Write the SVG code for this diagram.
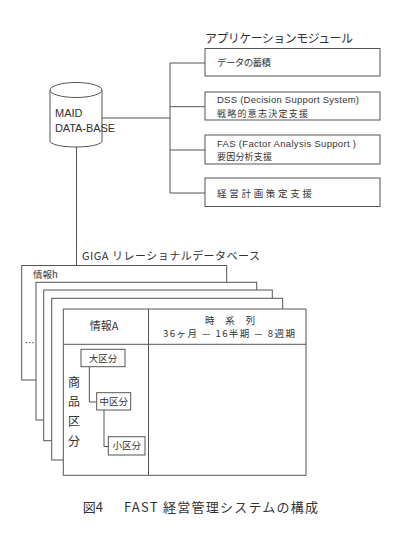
<svg xmlns="http://www.w3.org/2000/svg" width="400" height="537" viewBox="0 0 400 537">
<style>
.ln{fill:none;stroke:#555;stroke-width:1}
.bx{fill:#fff;stroke:#555;stroke-width:1}
.t{font-family:"Noto Sans CJK JP","Liberation Sans",sans-serif;fill:#333}
.l{font-family:"Liberation Sans","Noto Sans CJK JP",sans-serif;fill:#333}
.s{font-size:9.5px}
.s9{font-size:9px}
.m{font-size:11px}
</style>
<rect width="400" height="537" fill="#fff"/>
<g id="connectors">
<path class="ln" d="M102 118 H170 M170 63 V193 M170 63 H205 M170 106.7 H205 M170 150 H205 M170 193 H205"/>
<path class="ln" d="M76.5 147 V265"/>
</g>
<g id="maid-db">
<path class="bx" d="M50 90 V141 A26 6 0 0 0 102 141 V90"/>
<ellipse class="bx" cx="76" cy="90" rx="26" ry="7.5"/>
<text class="l m" x="55" y="117">MAID</text>
<text class="l m" x="55" y="132" textLength="60">DATA-BASE</text>
</g>
<g id="app-modules">
<text class="t" font-size="12" x="205" y="43" textLength="148">アプリケーションモジュール</text>
<g id="app1"><rect class="bx" x="205" y="48.5" width="175" height="27.5"/>
<text class="t s" x="217" y="66" textLength="54">データの蓄積</text></g>
<g id="app2"><rect class="bx" x="205" y="92" width="175" height="28"/>
<text class="l s" x="217" y="103" textLength="142">DSS (Decision  Support System)</text>
<text class="t s9" x="217" y="116.5" textLength="91">戦略的意志決定支援</text></g>
<g id="app3"><rect class="bx" x="205" y="135" width="175" height="29"/>
<text class="l s" x="217" y="147" textLength="139">FAS (Factor Analysis Support )</text>
<text class="t s9" x="217" y="160" textLength="55">要因分析支援</text></g>
<g id="app4"><rect class="bx" x="205" y="178" width="175" height="28.5"/>
<text class="t s" x="217" y="196.5" textLength="95">経営計画策定支援</text></g>
</g>
<g id="giga-db">
<text class="t m" x="82" y="260" textLength="178">GIGA リレーショナルデータベース</text>
<g id="info-h"><rect class="bx" x="21.7" y="265.5" width="205" height="114.5"/>
<text class="t s" x="33" y="278">情報h</text>
<text class="t s" x="25" y="346">…</text></g>
<rect class="bx" x="36" y="282.3" width="220.7" height="137.7"/>
<rect class="bx" x="43.7" y="290" width="228.6" height="150.7"/>
<rect class="bx" x="51.7" y="298.3" width="231" height="161.7"/>
<g id="info-a">
<rect class="bx" x="63.3" y="309" width="242.7" height="166.3"/>
<path class="ln" d="M63.3 344.3 H306 M148.5 309 V475.3"/>
<text class="t m" x="104" y="330" text-anchor="middle">情報A</text>
<text class="t s" x="205" y="324" textLength="50">時 系 列</text>
<text class="t s" x="163" y="336.5" textLength="132">36ヶ月 — 16半期 — 8週期</text>
<g class="t" font-size="12" text-anchor="middle">
<text x="74" y="387">商</text><text x="74" y="406">品</text><text x="74" y="426">区</text><text x="74" y="446">分</text>
</g>
<path class="ln" d="M89.3 366.7 V402 H96.7 M104 410 V446.5 H108.3"/>
<g id="dai"><rect class="bx" x="81" y="349.3" width="44" height="17.4"/>
<text class="t s" x="103" y="361.5" text-anchor="middle">大区分</text></g>
<g id="chu"><rect class="bx" x="96.7" y="392.7" width="34" height="17.3"/>
<text class="t s" x="113.7" y="404.8" text-anchor="middle">中区分</text></g>
<g id="sho"><rect class="bx" x="108.3" y="436.7" width="36.7" height="18.3"/>
<text class="t s" x="126.7" y="449.3" text-anchor="middle">小区分</text></g>
</g>
</g>
<g id="caption">
<text class="t" font-size="13" x="82.7" y="512">図4</text>
<text class="t" font-size="13" x="124" y="512" textLength="194">FAST 経営管理システムの構成</text>
</g>
</svg>
